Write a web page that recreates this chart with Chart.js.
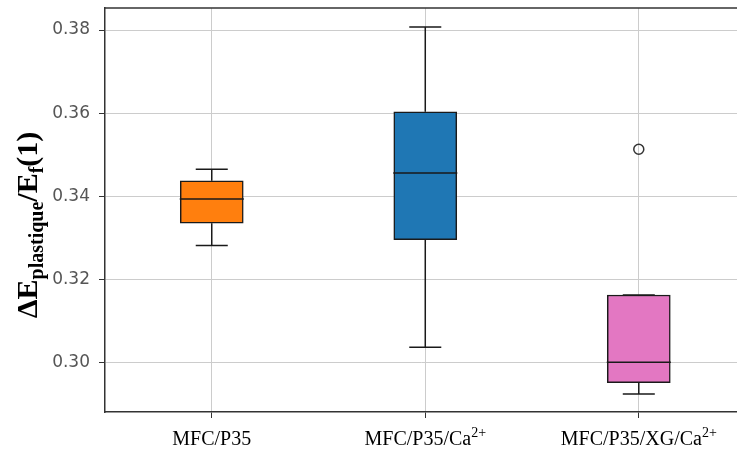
<!DOCTYPE html>
<html>
<head>
<meta charset="utf-8">
<script src="https://cdn.jsdelivr.net/npm/chart.js@4.4.1/dist/chart.umd.min.js"></script>
<style>
  html, body { margin: 0; padding: 0; background: #fff; overflow: hidden; }
  #wrap { position: relative; width: 737px; height: 450px; overflow: hidden; }
  canvas { display: block; }
</style>
</head>
<body>
<div id="wrap"><canvas id="c"></canvas></div>
<script>
// ---- data ----
const labels      = ['MFC/P35', 'MFC/P35/Ca', 'MFC/P35/XG/Ca'];
const labelSup    = ['', '2+', '2+'];
const positions   = [1, 2, 3];
const whiskerLow  = [0.3281, 0.3036, 0.2924];
const q1          = [0.3335, 0.3295, 0.2951];
const median      = [0.3393, 0.3456, 0.3000];
const q3          = [0.3437, 0.3603, 0.3162];
const whiskerHigh = [0.3465, 0.3807, 0.3162];
const outliers    = [[], [], [0.3513]];
const boxColors   = ['#ff7f0e', '#1f77b4', '#e377c2'];
const yTicks      = [0.30, 0.32, 0.34, 0.36, 0.38];

const BOX_HALF = 0.15, CAP_HALF = 0.075;
const LINE = '#1a1a1a';

// build datasets from data
const boxData = positions.map((p, i) => ({ x: p, y: [q1[i], q3[i]] }));
const whiskerData = [], capData = [], medData = [], outData = [];
positions.forEach((p, i) => {
  whiskerData.push({x: p, y: whiskerLow[i]}, {x: p, y: q1[i]}, {x: p, y: null});
  whiskerData.push({x: p, y: q3[i]}, {x: p, y: whiskerHigh[i]}, {x: p, y: null});
  capData.push({x: p - CAP_HALF, y: whiskerLow[i]}, {x: p + CAP_HALF, y: whiskerLow[i]}, {x: p, y: null});
  capData.push({x: p - CAP_HALF, y: whiskerHigh[i]}, {x: p + CAP_HALF, y: whiskerHigh[i]}, {x: p, y: null});
  medData.push({x: p - BOX_HALF, y: median[i]}, {x: p + BOX_HALF, y: median[i]}, {x: p, y: null});
  outliers[i].forEach(v => outData.push({x: p, y: v}));
});

const lineDs = (data) => ({
  type: 'line', data, borderColor: LINE, borderWidth: 1.5, pointRadius: 0,
  spanGaps: false, fill: false, order: 1
});

const extras = {
  id: 'extras',
  afterDraw(chart) {
    const ctx = chart.ctx, a = chart.chartArea, xs = chart.scales.x;
    ctx.save();
    // top spine
    ctx.strokeStyle = '#333'; ctx.lineWidth = 1.5;
    ctx.beginPath(); ctx.moveTo(a.left - 0.75, a.top); ctx.lineTo(a.right, a.top); ctx.stroke();
    // x tick labels with superscripts
    ctx.fillStyle = '#000';
    ctx.textBaseline = 'alphabetic';
    positions.forEach((p, i) => {
      const main = '20px "Liberation Serif", "Times New Roman", serif';
      const sup = '14px "Liberation Serif", "Times New Roman", serif';
      ctx.font = main; const w1 = ctx.measureText(labels[i]).width;
      ctx.font = sup; const w2 = labelSup[i] ? ctx.measureText(labelSup[i]).width : 0;
      const cx = xs.getPixelForValue(p);
      let x0 = cx - (w1 + w2) / 2;
      const base = 445;
      ctx.textAlign = 'left';
      ctx.font = main; ctx.fillText(labels[i], x0, base);
      if (labelSup[i]) { ctx.font = sup; ctx.fillText(labelSup[i], x0 + w1, base - 8); }
    });
    // y axis title (rotated, with subscripts)
    const parts = [
      {t: '\u0394', s: false}, {t: 'E', s: false}, {t: 'plastique', s: true},
      {t: '/', s: false}, {t: 'E', s: false}, {t: 'f', s: true}, {t: '(1)', s: false}
    ];
    const fMain = 'bold 30px "Liberation Serif", "Times New Roman", serif';
    const fSub = 'bold 20px "Liberation Serif", "Times New Roman", serif';
    let total = 0;
    parts.forEach(pt => { ctx.font = pt.s ? fSub : fMain; pt.w = ctx.measureText(pt.t).width; total += pt.w; });
    ctx.translate(37, 225);
    ctx.rotate(-Math.PI / 2);
    let x = -total / 2;
    parts.forEach(pt => {
      ctx.font = pt.s ? fSub : fMain;
      ctx.fillText(pt.t, x, pt.s ? 6 : 0);
      x += pt.w;
    });
    ctx.restore();
  }
};

new Chart(document.getElementById('c'), {
  type: 'bar',
  data: {
    datasets: [
      {
        type: 'bar', data: boxData, backgroundColor: boxColors,
        borderColor: LINE, borderWidth: 1.5, borderSkipped: false,
        barThickness: 63, order: 2
      },
      lineDs(whiskerData),
      lineDs(capData),
      lineDs(medData),
      {
        type: 'scatter', data: outData, pointStyle: 'circle', pointRadius: 5,
        pointBorderColor: '#333', pointBackgroundColor: 'rgba(255,255,255,0)',
        pointBorderWidth: 1.5, order: 0
      }
    ]
  },
  options: {
    responsive: true, maintainAspectRatio: false, animation: false,
    layout: { autoPadding: false, padding: { top: 8, right: 0, left: 0, bottom: 0 } },
    plugins: { legend: { display: false }, tooltip: { enabled: false } },
    scales: {
      x: {
        type: 'linear', min: 0.5, max: 3.46, offset: false,
        afterBuildTicks: s => { s.ticks = positions.map(v => ({ value: v })); },
        afterFit: s => { s.height = 38; s.paddingLeft = 0; s.paddingRight = 0; s.paddingTop = 0; s.paddingBottom = 0; },
        grid: { offset: false, color: '#cccccc', lineWidth: 1, tickLength: 6, tickColor: '#333', drawTicks: true },
        border: { color: '#333', width: 1.5 },
        ticks: { callback: () => '', padding: 0 }
      },
      y: {
        min: 0.28804, max: 0.3853,
        afterBuildTicks: s => { s.ticks = yTicks.map(v => ({ value: v })); },
        afterFit: s => { s.width = 105; s.paddingTop = 0; s.paddingBottom = 0; s.paddingLeft = 0; s.paddingRight = 0; },
        grid: { color: '#cccccc', lineWidth: 1, tickLength: 6, tickColor: '#333' },
        border: { color: '#333', width: 1.5 },
        ticks: {
          callback: v => Number(v).toFixed(2), padding: 9,
          color: '#555', font: { family: '"DejaVu Sans", sans-serif', size: 17 }
        }
      }
    }
  },
  plugins: [extras]
});
</script>
</body>
</html>
